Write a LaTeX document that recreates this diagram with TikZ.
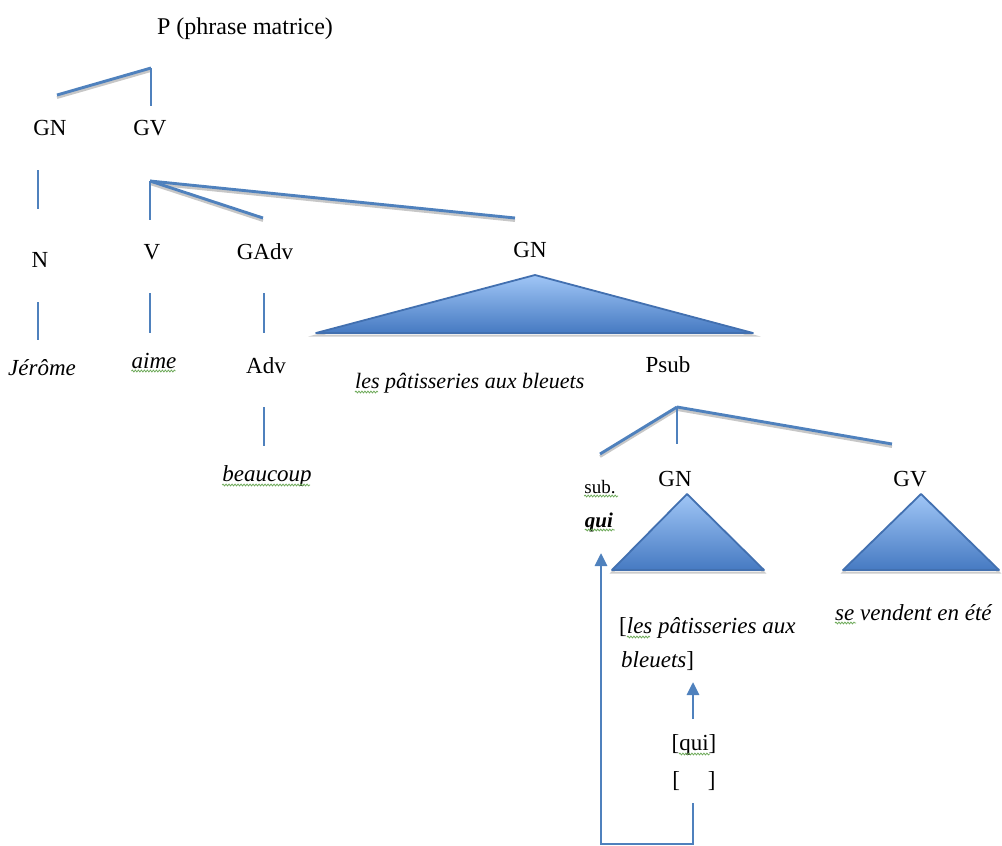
\documentclass[tikz,border=0pt]{standalone}
\usepackage{fontspec}
\setmainfont{Liberation Serif}
\usetikzlibrary{arrows.meta,decorations.pathmorphing}
\definecolor{treeblue}{RGB}{79,129,189}
\definecolor{triedge}{RGB}{66,112,176}
\definecolor{tritop}{RGB}{160,198,246}
\definecolor{tribot}{RGB}{70,122,194}
\definecolor{spellgreen}{RGB}{110,170,90}

\begin{document}
\begin{tikzpicture}[x=1pt,y=-1pt,
    lbl/.style={font=\fontsize{23}{27}\selectfont, inner sep=0pt, anchor=base},
    word/.style={font=\fontsize{23}{27}\selectfont\itshape, inner sep=0pt, anchor=base},
    stub/.style={draw=treeblue, line width=2.9pt},
    branch/.style={draw=treeblue, line width=2.9pt,
      preaction={draw=black!22, line width=2.9pt, transform canvas={yshift=-2.5pt}}},
    tri/.style={draw=triedge, line width=1.8pt, line join=round, top color=tritop, bottom color=tribot,
      preaction={draw=black!20, line width=2pt, transform canvas={yshift=-2.5pt}}},
    move/.style={draw=treeblue, line width=2.9pt, -{Triangle[length=13pt,width=12pt]}},
    spell/.style={draw=spellgreen, line width=0.8pt, decorate,
      decoration={snake, amplitude=0.9pt, segment length=3pt}}]
  \useasboundingbox (0,0) rectangle (1002,846);

  % main clause
  \node[lbl, font=\fontsize{24}{28}\selectfont] (p) at (245,34) {P (phrase matrice)};
  \node[lbl] (gn) at (50,135) {GN};
  \node[lbl] (gv) at (150,135) {GV};
  \coordinate (pTop) at (151,68);
  \draw[branch] (pTop) -- (57,95);
  \draw[stub] (pTop) -- (151,106);

  % subject
  \node[lbl] (n) at (40,267) {N};
  \node[word] (jerome) at (42,375) {Jérôme};
  \draw[stub] (38,170) -- (38,209);
  \draw[stub] (38,302) -- (38,340);

  % verb group
  \coordinate (gvTop) at (150,181);
  \draw[branch] (gvTop) -- (515,218);
  \draw[branch] (gvTop) -- (263,218);
  \draw[stub] (gvTop) -- (150,220);
  \node[lbl] (v) at (152,259) {V};
  \node[lbl] (gadv) at (265,259) {GAdv};
  \node[word] (aime) at (154,368) {aime};
  \node[lbl] (adv) at (266,373) {Adv};
  \node[word] (beaucoup) at (267,481) {beaucoup};
  \draw[stub] (150,293) -- (150,333);
  \draw[stub] (264,293) -- (264,333);
  \draw[stub] (264,407) -- (264,446);

  % object GN
  \node[lbl] (gnObj) at (530,257) {GN};
  \draw[tri] (535,275) -- (753,333) -- (316,333) -- cycle;
  \node[word, anchor=base west, font=\fontsize{22}{26}\selectfont\itshape] (patis) at (355,388) {les pâtisseries aux bleuets};
  \node[lbl] (psub) at (668,372) {Psub};

  % relative clause
  \coordinate (psubTop) at (677,407);
  \draw[branch] (psubTop) -- (600,454);
  \draw[branch] (psubTop) -- (892,444);
  \draw[stub] (psubTop) -- (677,444);
  \node[lbl, font=\fontsize{19}{23}\selectfont] (sub) at (600,493) {sub.};
  \node[word, font=\fontsize{21}{25}\selectfont\bfseries\itshape] (qui) at (599,527) {qui};
  \node[lbl] (gnSub) at (675,486) {GN};
  \node[lbl] (gvSub) at (910,486) {GV};
  \draw[tri] (687,494) -- (764,570) -- (612,570) -- cycle;
  \draw[tri] (921,494) -- (999,570) -- (843,570) -- cycle;
  \node[word, anchor=base west] (vendent) at (835,620) {se vendent en été};
  \node[lbl, anchor=base west] (antec1) at (619,633) {[\textit{les pâtisseries aux}};
  \node[lbl, anchor=base west] (antec2) at (621,667) {\textit{bleuets}]};
  \node[lbl] (quiTr) at (694,750) {[qui]};
  \node[lbl] (trace) at (694,787) {[\hspace{28pt}]};

  % movements
  \coordinate (quiStart) at (693,719);
  \draw[move] (quiStart) -- (693,682);
  \coordinate (loopStart) at (693,803);
  \coordinate (loopEnd) at (601,553);
  \draw[move] (loopStart) -- (693,844) -| (loopEnd);

  % spell-check marks
  \draw[spell] (aime.base west) ++(0,3) -- ++(44,0);
  \draw[spell] (beaucoup.base west) ++(0,4) -- ++(88,0);
  \draw[spell] (patis.base west) ++(0,4) -- ++(23,0);
  \draw[spell] (sub.base west) ++(0,3) -- ++(34,0);
  \draw[spell] (qui.base west) ++(0,3) -- ++(30,0);
  \draw[spell] (antec1.base west) ++(8,4) -- ++(23,0);
  \draw[spell] (vendent.base west) ++(0,3) -- ++(21,0);
  \draw[spell] (quiTr.base) ++(-15,4) -- ++(31,0);
\end{tikzpicture}
\end{document}
